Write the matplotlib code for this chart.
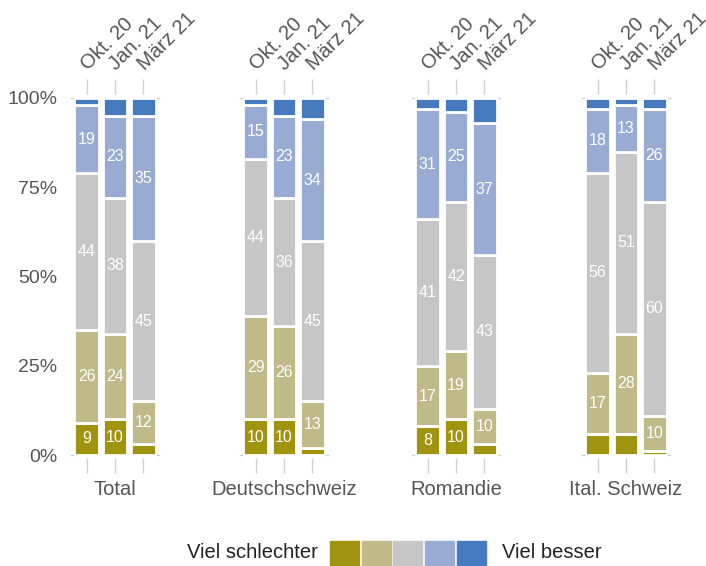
import matplotlib
matplotlib.use('Agg')
import numpy as np
from matplotlib import pyplot as plt
from matplotlib.patches import Rectangle
from matplotlib.transforms import ScaledTranslation

plt.rcParams['font.family'] = ['Liberation Sans', 'DejaVu Sans']

groups = ['Total', 'Deutschschweiz', 'Romandie', 'Ital. Schweiz']
periods = ['Okt. 20', 'Jan. 21', 'März 21']

# share in percent, one row per group, one column per period
viel_schlechter = [[9, 10, 3], [10, 10, 2], [8, 10, 3], [6, 6, 1]]
eher_schlechter = [[26, 24, 12], [29, 26, 13], [17, 19, 10], [17, 28, 10]]
gleich = [[44, 38, 45], [44, 36, 45], [41, 42, 43], [56, 51, 60]]
eher_besser = [[19, 23, 35], [15, 23, 34], [31, 25, 37], [18, 13, 26]]
viel_besser = [[2, 5, 5], [2, 5, 6], [3, 4, 7], [3, 2, 3]]

levels = [viel_schlechter, eher_schlechter, gleich, eher_besser, viel_besser]
colors = ['#a0930f', '#c0ba88', '#c6c6c6', '#97abd3', '#4679bd']
legend_left = 'Viel schlechter'
legend_right = 'Viel besser'

W, H = 706, 566
fig = plt.figure(figsize=(W / 100, H / 100), dpi=100)

panel_left = [71, 240, 412, 582]
panel_w = 88
y0, y1 = 455, 98
grey_txt = '#555555'
tick_col = '#d0d0d0'
fs = 14.5
shift = ScaledTranslation(0.04, 0.01, fig.dpi_scale_trans)

for g, name in enumerate(groups):
    ax = fig.add_axes([panel_left[g] / W, (H - y0) / H, panel_w / W, (y0 - y1) / H])
    x = np.arange(len(periods))
    bottom = np.zeros(len(periods))
    for lev, col in zip(levels, colors):
        vals = np.array(lev[g], dtype=float)
        ax.bar(x, vals, bottom=bottom, width=0.88, color=col,
               edgecolor='white', linewidth=2)
        for xi, v, b in zip(x, vals, bottom):
            if v >= 8:
                ax.text(xi, b + v / 2, '%d' % v, ha='center', va='center',
                        color='white', fontsize=11.5)
        bottom += vals

    ax.set_xlim(-0.55, 2.55)
    ax.set_ylim(0, 100)
    for s in ax.spines.values():
        s.set_color('none')
    ax.spines['top'].set_position(('outward', 3))
    ax.spines['bottom'].set_position(('outward', 2))
    ax.set_xticks(x)
    ax.xaxis.set_ticks_position('both')
    ax.tick_params(axis='x', which='both', length=11, width=1, color=tick_col,
                   labeltop=True, labelbottom=False, pad=3)
    ax.set_xticklabels(periods, rotation=45, ha='left', va='bottom',
                       rotation_mode='anchor', fontsize=fs, color=grey_txt)
    for t in ax.xaxis.get_major_ticks():
        t.label2.set_transform(t.label2.get_transform() + shift)
    # short marks at the panel corners
    for yy in (0, 100):
        ax.plot([-0.55, -0.47], [yy, yy], color=tick_col, lw=1, clip_on=False)
        ax.plot([2.47, 2.55], [yy, yy], color=tick_col, lw=1, clip_on=False)

    ax.text(0.5, -0.098, name, transform=ax.transAxes, ha='center', va='center',
            fontsize=fs, color=grey_txt)

    ax.set_yticks([0, 25, 50, 75, 100])
    if g == 0:
        ax.set_yticklabels(['0%', '25%', '50%', '75%', '100%'], fontsize=14,
                           color=grey_txt)
        ax.tick_params(axis='y', length=0, pad=10)
    else:
        ax.tick_params(axis='y', length=0, labelleft=False)

# legend
sq_x = [330, 362, 393, 425, 457]
for sx, col in zip(sq_x, colors):
    fig.patches.append(Rectangle((sx / W, 0), 29 / W, 25 / H, color=col,
                                 transform=fig.transFigure, figure=fig))
fig.text(318 / W, (H - 553) / H, legend_left, ha='right', va='center',
         fontsize=fs, color='#222222')
fig.text(502 / W, (H - 553) / H, legend_right, ha='left', va='center',
         fontsize=fs, color='#222222')

fig.savefig('out.png', dpi=100)
